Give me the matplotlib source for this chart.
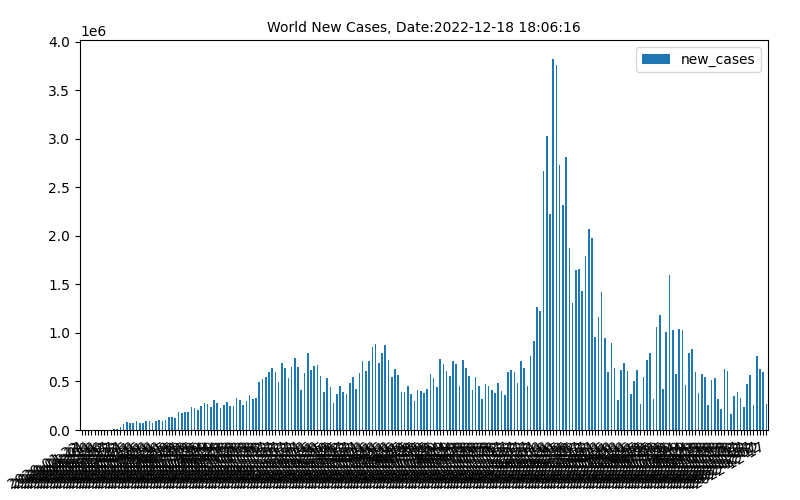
import matplotlib
matplotlib.use("Agg")
import matplotlib.pyplot as plt
import pandas as pd

# Dates: every 5th day starting 2020-01-22
dates = pd.date_range("2020-01-22", periods=213, freq="5D").strftime("%Y-%m-%d").tolist()

# Daily new cases, in millions
cases_2020a = [0, 0, 0, 0, 0, 0, 0, 0, 0, 0,
               0.010, 0.012, 0.031, 0.062, 0.082, 0.072, 0.072, 0.093, 0.072, 0.072,
               0.093, 0.093, 0.072, 0.093, 0.103, 0.093, 0.103, 0.134, 0.134, 0.124,
               0.186, 0.175, 0.186, 0.186, 0.237, 0.230, 0.206, 0.247, 0.278, 0.268,
               0.237, 0.309, 0.278, 0.227, 0.258, 0.289, 0.247, 0.247, 0.330, 0.309]
cases_2020b = [0.258, 0.299, 0.360, 0.320, 0.330, 0.495, 0.526, 0.546, 0.598, 0.639,
               0.598, 0.495, 0.690, 0.639, 0.536, 0.650, 0.742, 0.650, 0.412, 0.588,
               0.794, 0.619, 0.660, 0.670, 0.557, 0.392, 0.536, 0.443, 0.278, 0.371,
               0.454, 0.392, 0.371, 0.485, 0.546, 0.423, 0.588, 0.711, 0.608, 0.711,
               0.856, 0.887, 0.690, 0.794, 0.876, 0.722, 0.546, 0.629, 0.567, 0.392]
cases_2021 = [0.392, 0.454, 0.371, 0.299, 0.412, 0.402, 0.381, 0.423, 0.577, 0.536,
              0.443, 0.732, 0.680, 0.608, 0.557, 0.711, 0.680, 0.454, 0.722, 0.639,
              0.557, 0.412, 0.546, 0.454, 0.320, 0.474, 0.454, 0.412, 0.381, 0.485,
              0.402, 0.361, 0.598, 0.619, 0.598, 0.485, 0.711, 0.639, 0.454, 0.763,
              0.918, 1.268, 1.227, 2.670, 3.030, 2.227, 3.825, 3.763, 2.732, 2.320]
cases_2022 = [2.814, 1.876, 1.309, 1.649, 1.660, 1.433, 1.794, 2.072, 1.979, 0.959,
              1.165, 1.423, 0.948, 0.598, 0.897, 0.639, 0.309, 0.619, 0.691, 0.608,
              0.371, 0.505, 0.619, 0.268, 0.546, 0.722, 0.794, 0.320, 1.062, 1.186,
              0.423, 1.010, 1.598, 1.031, 0.577, 1.041, 1.031, 0.464, 0.794, 0.835,
              0.598, 0.381, 0.577, 0.546, 0.258, 0.515, 0.536, 0.320, 0.216, 0.629,
              0.608, 0.165, 0.351, 0.392, 0.330, 0.237, 0.474, 0.567, 0.258, 0.763,
              0.629, 0.598, 0.268]

new_cases = [v * 1e6 for v in cases_2020a + cases_2020b + cases_2021 + cases_2022]

df = pd.DataFrame({"new_cases": new_cases}, index=dates)

fig, ax = plt.subplots(figsize=(8, 5), dpi=100)
df.plot.bar(ax=ax, color="#1f77b4")
ax.set_title("World New Cases, Date:2022-12-18 18:06:16", fontsize=10)
ax.legend(loc="upper right")
for lbl in ax.get_xticklabels():
    lbl.set_rotation(30)
    lbl.set_ha("right")
fig.subplots_adjust(left=0.1, right=0.96, top=0.92, bottom=0.14)
fig.savefig("out.png", dpi=100)
